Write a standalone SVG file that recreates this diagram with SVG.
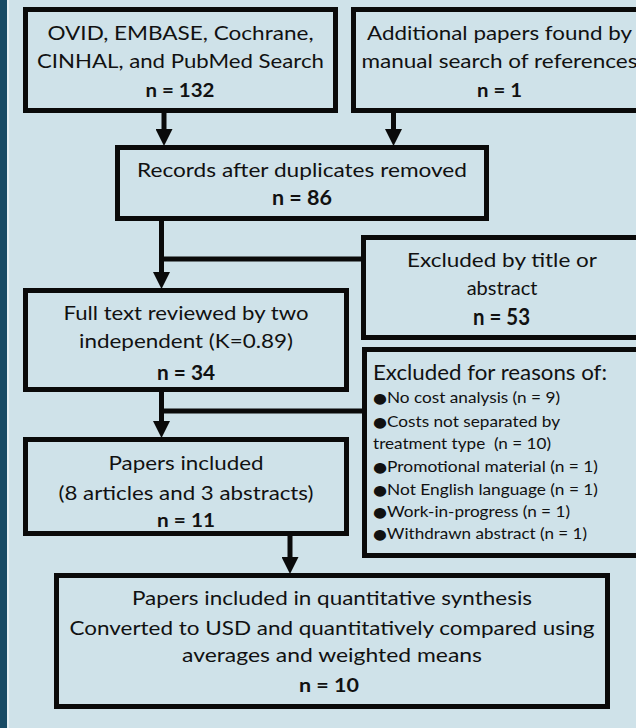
<svg xmlns="http://www.w3.org/2000/svg" width="636" height="728" viewBox="0 0 636 728">
<style>
.box{fill:#cfe2e9;stroke:#0a0a0a;stroke-width:5}
.t{font-family:Lato,"Open Sans","DejaVu Sans",sans-serif;font-size:20px;fill:#111;text-anchor:middle}
.b{font-family:Lato,"Open Sans","DejaVu Sans",sans-serif;font-size:18px;font-weight:bold;fill:#111;text-anchor:middle}
.s{font-family:Lato,"Open Sans","DejaVu Sans",sans-serif;font-size:15px;fill:#111}
.h{font-family:Lato,"Open Sans","DejaVu Sans",sans-serif;font-size:21px;fill:#111}
.d{font-family:"DejaVu Sans",sans-serif;font-size:14px}
.c{stroke:#0a0a0a;stroke-width:5;fill:none}
</style>
<defs>
<marker id="ah" markerUnits="userSpaceOnUse" markerWidth="17" markerHeight="17" refX="0" refY="8.5" orient="auto" viewBox="0 0 17 17">
<path d="M0,0 L17,8.5 L0,17 Z" fill="#0a0a0a"/>
</marker>
</defs>
<rect x="0" y="0" width="636" height="728" fill="#cfe2e9"/>
<rect x="0" y="0" width="7" height="728" fill="#174a64"/>
<rect x="7" y="0" width="2" height="728" fill="#e4eff3"/>

<g id="connectors">
<line class="c" x1="164" y1="113" x2="164" y2="129" marker-end="url(#ah)"/>
<line class="c" x1="393.5" y1="113" x2="393.5" y2="129" marker-end="url(#ah)"/>
<line class="c" x1="161.5" y1="221" x2="161.5" y2="272" marker-end="url(#ah)"/>
<line class="c" x1="159" y1="259" x2="363" y2="259"/>
<line class="c" x1="161.5" y1="392" x2="161.5" y2="421" marker-end="url(#ah)"/>
<line class="c" x1="159" y1="411" x2="364" y2="411"/>
<line class="c" x1="290" y1="536" x2="290" y2="557" marker-end="url(#ah)"/>
</g>

<g id="search">
<rect class="box" x="25.5" y="9.5" width="310" height="101"/>
<text class="t" x="180.5" y="40" textLength="266" lengthAdjust="spacingAndGlyphs">OVID, EMBASE, Cochrane,</text>
<text class="t" x="180.5" y="68" textLength="287" lengthAdjust="spacingAndGlyphs">CINHAL, and PubMed Search</text>
<text class="b" x="180" y="97" textLength="69" lengthAdjust="spacingAndGlyphs">n = 132</text>
</g>

<g id="additional">
<rect class="box" x="353.5" y="9.5" width="292" height="101"/>
<text class="t" x="499.5" y="40" textLength="265" lengthAdjust="spacingAndGlyphs">Additional papers found by</text>
<text class="t" x="499.5" y="68" textLength="276" lengthAdjust="spacingAndGlyphs">manual search of references</text>
<text class="b" x="499.5" y="97" textLength="45" lengthAdjust="spacingAndGlyphs">n = 1</text>
</g>

<g id="records">
<rect class="box" x="117.5" y="147.5" width="369" height="71"/>
<text class="t" x="302" y="177" textLength="330" lengthAdjust="spacingAndGlyphs">Records after duplicates removed</text>
<text class="b" x="302" y="205" style="font-size:20px" textLength="60" lengthAdjust="spacingAndGlyphs">n = 86</text>
</g>

<g id="excluded-title">
<rect class="box" x="363.5" y="237.5" width="277" height="100"/>
<text class="t" x="502" y="267" textLength="190" lengthAdjust="spacingAndGlyphs">Excluded by title or</text>
<text class="t" x="502" y="295">abstract</text>
<text class="b" x="501.5" y="325" style="font-size:22px" textLength="57" lengthAdjust="spacingAndGlyphs">n = 53</text>
</g>

<g id="fulltext">
<rect class="box" x="25.5" y="290.5" width="321" height="99"/>
<text class="t" x="186" y="320" textLength="245" lengthAdjust="spacingAndGlyphs">Full text reviewed by two</text>
<text class="t" x="186" y="348" textLength="214" lengthAdjust="spacingAndGlyphs">independent (K=0.89)</text>
<text class="b" x="186" y="380" style="font-size:21px" textLength="58" lengthAdjust="spacingAndGlyphs">n = 34</text>
</g>

<g id="excluded-reasons">
<rect class="box" x="364.5" y="349.5" width="276" height="206"/>
<text class="h" x="373" y="380" textLength="234" lengthAdjust="spacingAndGlyphs">Excluded for reasons of:</text>
<text class="s" x="373" y="403" textLength="187" lengthAdjust="spacingAndGlyphs"><tspan class="d">●</tspan>No cost analysis (n = 9)</text>
<text class="s" x="373" y="427" textLength="187" lengthAdjust="spacingAndGlyphs"><tspan class="d">●</tspan>Costs not separated by</text>
<text class="s" x="373" y="449" textLength="178" lengthAdjust="spacingAndGlyphs" xml:space="preserve">treatment type  (n = 10)</text>
<text class="s" x="373" y="472" textLength="225" lengthAdjust="spacingAndGlyphs"><tspan class="d">●</tspan>Promotional material (n = 1)</text>
<text class="s" x="373" y="495" textLength="225" lengthAdjust="spacingAndGlyphs"><tspan class="d">●</tspan>Not English language (n = 1)</text>
<text class="s" x="373" y="517" textLength="197" lengthAdjust="spacingAndGlyphs"><tspan class="d">●</tspan>Work-in-progress (n = 1)</text>
<text class="s" x="373" y="539" textLength="214" lengthAdjust="spacingAndGlyphs"><tspan class="d">●</tspan>Withdrawn abstract (n = 1)</text>
</g>

<g id="included">
<rect class="box" x="25.5" y="439.5" width="321" height="94"/>
<text class="t" x="186" y="470" textLength="155" lengthAdjust="spacingAndGlyphs">Papers included</text>
<text class="t" x="186" y="500" textLength="255" lengthAdjust="spacingAndGlyphs">(8 articles and 3 abstracts)</text>
<text class="b" x="186" y="527" textLength="58" lengthAdjust="spacingAndGlyphs">n = 11</text>
</g>

<g id="synthesis">
<rect class="box" x="56.5" y="575.5" width="551" height="131"/>
<text class="t" x="332" y="605" textLength="400" lengthAdjust="spacingAndGlyphs">Papers included in quantitative synthesis</text>
<text class="t" x="332" y="635" textLength="525" lengthAdjust="spacingAndGlyphs">Converted to USD and quantitatively compared using</text>
<text class="t" x="332" y="662" textLength="300" lengthAdjust="spacingAndGlyphs">averages and weighted means</text>
<text class="b" x="329" y="692" textLength="60" lengthAdjust="spacingAndGlyphs">n = 10</text>
</g>
</svg>
